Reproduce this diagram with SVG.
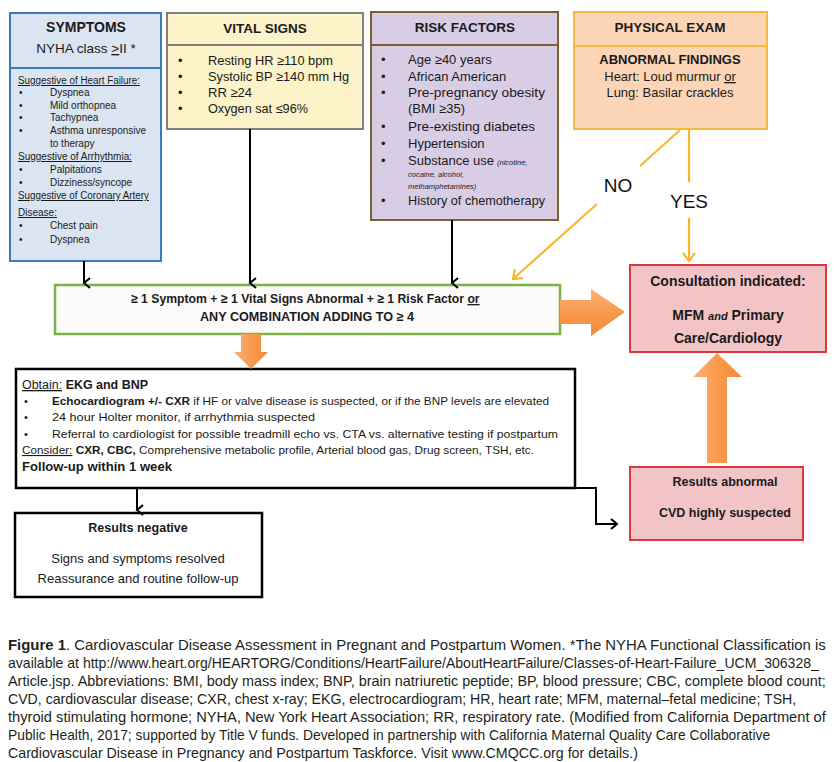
<svg xmlns="http://www.w3.org/2000/svg" width="835" height="762" viewBox="0 0 835 762">
<style>
text{font-family:"Liberation Sans",Arial,sans-serif;fill:#1a1a1a}
.t{font-size:13.5px;font-weight:bold;text-anchor:middle}
.b{font-size:13px}
.s{font-size:10px}
.bd{font-weight:bold}
.u{text-decoration:underline}
.cap{font-family:"Liberation Sans Narrow","Liberation Sans",Arial,sans-serif;font-size:14.5px;fill:#231f20}
.blk{fill:none;stroke:#000;stroke-width:2}
.yel{fill:none;stroke:#f5b82e;stroke-width:2.2}
</style>
<defs>
<marker id="ah" markerWidth="12" markerHeight="12" refX="6" refY="10" orient="auto" markerUnits="userSpaceOnUse" viewBox="0 0 12 12">
<polyline points="1,4 6,10 11,4" fill="none" stroke="#000" stroke-width="2"/>
</marker>
<marker id="ahr" markerWidth="12" markerHeight="12" refX="10" refY="6" orient="0" markerUnits="userSpaceOnUse" viewBox="0 0 12 12">
<polyline points="4,1 10,6 4,11" fill="none" stroke="#000" stroke-width="2"/>
</marker>
<marker id="ay" markerWidth="14" markerHeight="14" refX="11" refY="7" orient="auto" markerUnits="userSpaceOnUse" viewBox="0 0 14 14">
<polyline points="3,1 11,7 3,13" fill="none" stroke="#f5b82e" stroke-width="2.2"/>
</marker>
<linearGradient id="gv" x1="0" y1="0" x2="1" y2="0">
<stop offset="0" stop-color="#fbb27a"/><stop offset="0.5" stop-color="#f89a4e"/><stop offset="1" stop-color="#f68a3a"/>
</linearGradient>
<linearGradient id="gh" x1="0" y1="0" x2="0" y2="1">
<stop offset="0" stop-color="#fbb27a"/><stop offset="0.5" stop-color="#f89a4e"/><stop offset="1" stop-color="#f68a3a"/>
</linearGradient>
</defs>
<rect width="835" height="762" fill="#fff"/>

<g id="symptoms">
<rect x="10" y="13" width="151" height="248" fill="#dbe5f1" stroke="#3a7abf" stroke-width="2"/>
<line x1="10" y1="68" x2="161" y2="68" stroke="#3a7abf" stroke-width="2"/>
<text class="t" x="86" y="32" style="font-size:14px">SYMPTOMS</text>
<text x="86" y="53" style="font-size:13.5px;text-anchor:middle">NYHA class  <tspan class="u">&gt;</tspan>II *</text>
<text class="s u" x="18" y="84" textLength="122" lengthAdjust="spacingAndGlyphs">Suggestive of Heart Failure:</text>
<text class="s" x="19" y="96">•</text><text class="s" x="50" y="96">Dyspnea</text>
<text class="s" x="19" y="109">•</text><text class="s" x="50" y="109">Mild orthopnea</text>
<text class="s" x="19" y="121">•</text><text class="s" x="50" y="121">Tachypnea</text>
<text class="s" x="19" y="134">•</text><text class="s" x="50" y="134" textLength="96" lengthAdjust="spacingAndGlyphs">Asthma unresponsive</text>
<text class="s" x="50" y="147">to therapy</text>
<text class="s u" x="18" y="160" textLength="114" lengthAdjust="spacingAndGlyphs">Suggestive of Arrhythmia:</text>
<text class="s" x="19" y="173">•</text><text class="s" x="50" y="173">Palpitations</text>
<text class="s" x="19" y="186">•</text><text class="s" x="50" y="186" textLength="82" lengthAdjust="spacingAndGlyphs">Dizziness/syncope</text>
<text class="s u" x="18" y="199" textLength="131" lengthAdjust="spacingAndGlyphs">Suggestive of Coronary Artery</text>
<text class="s u" x="18" y="216">Disease:</text>
<text class="s" x="19" y="229">•</text><text class="s" x="50" y="229">Chest pain</text>
<text class="s" x="19" y="243">•</text><text class="s" x="50" y="243">Dyspnea</text>
</g>

<g id="vital">
<rect x="167" y="13" width="196" height="116" fill="#fcf3c8" stroke="#7f7f7f" stroke-width="2"/>
<line x1="167" y1="45" x2="363" y2="45" stroke="#7f7f7f" stroke-width="2"/>
<text class="t" x="265" y="33">VITAL SIGNS</text>
<text class="b" x="178" y="65">•</text><text class="b" x="208" y="65" textLength="125" lengthAdjust="spacingAndGlyphs">Resting HR ≥110 bpm</text>
<text class="b" x="178" y="81">•</text><text class="b" x="208" y="81" textLength="141" lengthAdjust="spacingAndGlyphs">Systolic BP ≥140 mm Hg</text>
<text class="b" x="178" y="97">•</text><text class="b" x="208" y="97">RR ≥24</text>
<text class="b" x="178" y="113">•</text><text class="b" x="208" y="113" textLength="100" lengthAdjust="spacingAndGlyphs">Oxygen sat ≤96%</text>
</g>

<g id="risk">
<rect x="371" y="12" width="187" height="208" fill="#d9cde5" stroke="#7d5f33" stroke-width="2"/>
<line x1="371" y1="45" x2="558" y2="45" stroke="#7d5f33" stroke-width="2"/>
<text class="t" x="465" y="32">RISK FACTORS</text>
<text class="b" x="381" y="64">•</text><text class="b" x="408" y="64">Age ≥40 years</text>
<text class="b" x="381" y="81">•</text><text class="b" x="408" y="81">African American</text>
<text class="b" x="381" y="97">•</text><text class="b" x="408" y="97" textLength="137" lengthAdjust="spacingAndGlyphs">Pre-pregnancy obesity</text>
<text class="b" x="408" y="113">(BMI ≥35)</text>
<text class="b" x="381" y="131">•</text><text class="b" x="408" y="131" textLength="127" lengthAdjust="spacingAndGlyphs">Pre-existing diabetes</text>
<text class="b" x="381" y="148">•</text><text class="b" x="408" y="148">Hypertension</text>
<text class="b" x="381" y="165">•</text><text class="b" x="408" y="165">Substance use</text>
<text x="497" y="165" style="font-size:7.5px;font-style:italic">(nicotine,</text>
<text x="408" y="177" style="font-size:7.5px;font-style:italic">cocaine, alcohol,</text>
<text x="408" y="189" style="font-size:7.5px;font-style:italic">methamphetamines)</text>
<text class="b" x="381" y="205">•</text><text class="b" x="408" y="205" textLength="137" lengthAdjust="spacingAndGlyphs">History of chemotherapy</text>
</g>

<g id="physical">
<rect x="574" y="12" width="193" height="117" fill="#fcd5b6" stroke="#f5b93d" stroke-width="2"/>
<line x1="574" y1="46" x2="767" y2="46" stroke="#f5b93d" stroke-width="2"/>
<text class="t" x="670" y="32">PHYSICAL EXAM</text>
<text class="t" x="670" y="64" style="font-size:13px">ABNORMAL FINDINGS</text>
<text class="b" x="670" y="81" style="text-anchor:middle">Heart: Loud murmur <tspan class="u">or</tspan></text>
<text class="b" x="670" y="97" style="text-anchor:middle">Lung: Basilar crackles</text>
</g>

<g id="criteria">
<rect x="55" y="285" width="505" height="49" fill="#fdfbf9" stroke="#78b446" stroke-width="2.5"/>
<text class="bd" transform="translate(131,303) scale(0.94,1)" x="0" y="0" style="font-size:13px">≥ 1 Symptom + ≥ 1 Vital Signs Abnormal + ≥ 1 Risk Factor <tspan class="u">or</tspan></text>
<text class="bd" x="307" y="321" style="font-size:13px;text-anchor:middle" textLength="214" lengthAdjust="spacingAndGlyphs">ANY COMBINATION ADDING TO ≥  4</text>
</g>

<g id="consult">
<rect x="630" y="265" width="196" height="87" fill="#f2c4c5" stroke="#d9393f" stroke-width="2"/>
<text class="t" x="728" y="286" style="font-size:14px">Consultation indicated:</text>
<text class="t" x="728" y="320" style="font-size:14px">MFM <tspan style="font-style:italic;font-size:11px">and</tspan> Primary</text>
<text class="t" x="728" y="343" style="font-size:14px">Care/Cardiology</text>
</g>

<g id="obtain">
<rect x="16" y="369" width="559" height="119" fill="#fff" stroke="#000" stroke-width="2.5"/>
<text x="22" y="389" style="font-size:13px" textLength="126" lengthAdjust="spacingAndGlyphs"><tspan class="u">Obtain:</tspan> <tspan class="bd">EKG and BNP</tspan></text>
<text x="24" y="405" style="font-size:11px">•</text>
<text x="52" y="405" style="font-size:11px" textLength="497" lengthAdjust="spacingAndGlyphs"><tspan class="bd">Echocardiogram  +/- CXR</tspan> if HF or valve disease is suspected, or if the BNP levels are elevated</text>
<text x="24" y="421" style="font-size:11px">•</text>
<text x="52" y="421" style="font-size:11px" textLength="263" lengthAdjust="spacingAndGlyphs">24 hour Holter monitor, if arrhythmia suspected</text>
<text x="24" y="438" style="font-size:11px">•</text>
<text x="52" y="438" style="font-size:11px" textLength="506" lengthAdjust="spacingAndGlyphs">Referral to cardiologist for possible treadmill echo vs. CTA vs. alternative testing if postpartum</text>
<text x="22" y="454" style="font-size:11px" textLength="512" lengthAdjust="spacingAndGlyphs"><tspan class="u">Consider:</tspan> <tspan class="bd">CXR, CBC,</tspan> Comprehensive metabolic profile, Arterial blood gas, Drug screen, TSH, etc.</text>
<text class="bd" x="22" y="471" style="font-size:13px" textLength="150" lengthAdjust="spacingAndGlyphs">Follow-up within 1 week</text>
</g>

<g id="negative">
<rect x="15" y="513" width="247" height="84" fill="#fff" stroke="#000" stroke-width="2.5"/>
<text class="t" x="138" y="532" style="font-size:12.5px">Results negative</text>
<text x="138" y="563" style="font-size:13px;text-anchor:middle">Signs and symptoms resolved</text>
<text x="138" y="583" style="font-size:13px;text-anchor:middle">Reassurance and routine follow-up</text>
</g>

<g id="abnormal">
<rect x="630" y="467" width="173" height="73" fill="#f2c4c5" stroke="#d9393f" stroke-width="2"/>
<text class="t" x="725" y="486" style="font-size:12.5px">Results abnormal</text>
<text class="t" x="725" y="517" style="font-size:12.5px">CVD highly suspected</text>
</g>

<g id="connectors">
<line class="blk" x1="84" y1="261" x2="84" y2="283" marker-end="url(#ah)"/>
<line class="blk" x1="250" y1="129" x2="250" y2="283" marker-end="url(#ah)"/>
<line class="blk" x1="452" y1="220" x2="452" y2="283" marker-end="url(#ah)"/>
<line class="blk" x1="137" y1="489" x2="137" y2="510" marker-end="url(#ah)"/>
<polyline class="blk" points="575,488 596,488 596,524 617,524" marker-end="url(#ahr)"/>
<line class="yel" x1="680" y1="130" x2="640" y2="166"/>
<line class="yel" x1="597" y1="204" x2="513" y2="279" marker-end="url(#ay)"/>
<line class="yel" x1="689" y1="130" x2="689" y2="182"/>
<line class="yel" x1="689" y1="218" x2="689" y2="261" marker-end="url(#ay)"/>
<text x="618" y="192" style="font-size:19px;text-anchor:middle;fill:#111">NO</text>
<text x="689" y="208" style="font-size:19px;text-anchor:middle;fill:#111">YES</text>
<polygon points="560,300 591,300 591,289 625,312 591,336 591,324 560,324" fill="url(#gh)"/>
<polygon points="241,334 261,334 261,352 268,352 251,369 234,352 241,352" fill="url(#gv)"/>
<polygon points="707,463 707,377 693,377 717,353 742,377 727,377 727,463" fill="url(#gv)"/>
</g>

<g id="caption">
<g transform="translate(8,0) scale(0.87,1)">
<text class="cap" x="0" y="650" textLength="940" lengthAdjust="spacingAndGlyphs"><tspan style="font-weight:bold">Figure 1</tspan>. Cardiovascular Disease Assessment in Pregnant and Postpartum Women. *The NYHA Functional Classification is</text>
<text class="cap" x="0" y="668" textLength="932" lengthAdjust="spacingAndGlyphs">available at http://www.heart.org/HEARTORG/Conditions/HeartFailure/AboutHeartFailure/Classes-of-Heart-Failure_UCM_306328_</text>
<text class="cap" x="0" y="686" textLength="940" lengthAdjust="spacingAndGlyphs">Article.jsp. Abbreviations: BMI, body mass index; BNP, brain natriuretic peptide; BP, blood pressure; CBC, complete blood count;</text>
<text class="cap" x="0" y="704" textLength="906" lengthAdjust="spacingAndGlyphs">CVD, cardiovascular disease; CXR, chest x-ray; EKG, electrocardiogram; HR, heart rate; MFM, maternal–fetal medicine; TSH,</text>
<text class="cap" x="0" y="722" textLength="940" lengthAdjust="spacingAndGlyphs">thyroid stimulating hormone; NYHA, New York Heart Association; RR, respiratory rate. (Modified from California Department of</text>
<text class="cap" x="0" y="740" textLength="876" lengthAdjust="spacingAndGlyphs">Public Health, 2017; supported by Title V funds. Developed in partnership with California Maternal Quality Care Collaborative</text>
<text class="cap" x="0" y="758" textLength="724" lengthAdjust="spacingAndGlyphs">Cardiovascular Disease in Pregnancy and Postpartum Taskforce. Visit www.CMQCC.org for details.)</text>
</g>
</g>
</svg>
